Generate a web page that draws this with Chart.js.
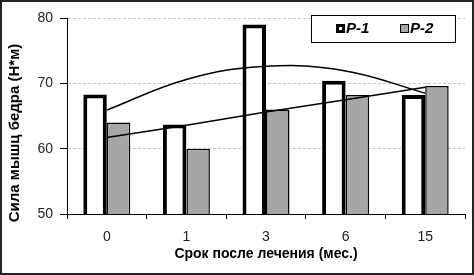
<!DOCTYPE html>
<html>
<head>
<meta charset="utf-8">
<script src="https://cdn.jsdelivr.net/npm/chart.js@4/dist/chart.umd.min.js"></script>
<style>
  html, body { margin: 0; padding: 0; background: #fff; }
  #wrap { width: 474px; height: 275px; box-sizing: border-box; border: 2px solid #222; position: relative; }
  canvas { display: block; }
</style>
</head>
<body>
<div id="wrap"><canvas id="chart" width="470" height="271"></canvas></div>
<script>
// data
const periods = ["0", "1", "3", "6", "15"];
const p1 = [68.3, 63.7, 79.0, 70.4, 68.2];
const p2 = [64.0, 60.0, 66.0, 68.2, 69.6];
// trend lines (polynomial for P-1, linear for P-2), read at category centres
const trendP1 = [65.9, 70.6, 72.6, 71.9, 68.5];
const trendP2 = [61.7, 63.6, 65.6, 67.5, 69.4];
const yTicks = [50, 60, 70, 80];

const FONT = "'Liberation Sans', Arial, sans-serif";
const yTitle = "Сила мышц бедра (Н*м)";

// legend box in the top right corner + y axis title (sits lower than plot centre)
const extras = {
    id: "extras",
    afterDraw(chart) {
        const ctx = chart.ctx;
        ctx.save();
        ctx.fillStyle = "#fff";
        ctx.fillRect(309, 13, 144, 27);
        ctx.strokeStyle = "#000";
        ctx.lineWidth = 1;
        ctx.strokeRect(309.5, 13.5, 144, 27);

        // P-1 marker
        ctx.fillStyle = "#000";
        ctx.fillRect(334, 22, 9, 9);
        ctx.fillStyle = "#fff";
        ctx.fillRect(337, 25, 3, 3);
        // P-2 marker
        ctx.fillStyle = "#000";
        ctx.fillRect(398, 22, 9, 9);
        ctx.fillStyle = "#a6a6a6";
        ctx.fillRect(399, 23, 7, 7);

        ctx.fillStyle = "#000";
        ctx.font = "italic bold 15px " + FONT;
        ctx.textBaseline = "middle";
        ctx.fillText("P-1", 344, 27);
        ctx.fillText("P-2", 408, 27);

        ctx.translate(13, 131);
        ctx.rotate(-Math.PI / 2);
        ctx.textAlign = "center";
        ctx.font = "bold 15px " + FONT;
        ctx.fillText(yTitle, 0, 0);
        ctx.restore();
    }
};

new Chart(document.getElementById("chart"), {
    type: "bar",
    data: {
        labels: periods,
        datasets: [
            {
                type: "line", label: "trend P-1", data: trendP1,
                borderColor: "#000", borderWidth: 1.5, pointRadius: 0,
                tension: 0.4, fill: false, order: 0
            },
            {
                type: "line", label: "trend P-2", data: trendP2,
                borderColor: "#000", borderWidth: 1.5, pointRadius: 0,
                tension: 0, fill: false, order: 0
            },
            {
                label: "P-1", data: p1,
                backgroundColor: "#fff", borderColor: "#000", borderWidth: 4,
                borderSkipped: false, categoryPercentage: 0.59, barPercentage: 1, order: 1
            },
            {
                label: "P-2", data: p2,
                backgroundColor: "#a6a6a6", borderColor: "#000", borderWidth: 1.5,
                borderSkipped: false, categoryPercentage: 0.59, barPercentage: 1, order: 1
            }
        ]
    },
    options: {
        responsive: false,
        animation: false,
        layout: { padding: { top: 16, right: 7, left: 0, bottom: 10 } },
        plugins: { legend: { display: false }, tooltip: { enabled: false } },
        scales: {
            x: {
                grid: { offset: true, drawOnChartArea: false, tickLength: 5, color: "#000", lineWidth: 1 },
                border: { color: "#000", width: 1 },
                ticks: { color: "#222", font: { family: FONT, size: 14 }, padding: 10 },
                title: { display: true, text: "Срок после лечения (мес.)", color: "#000",
                         font: { family: FONT, size: 14, weight: "bold" }, padding: { top: 2, bottom: 0 } },
                afterFit(scale) { scale.height = 49; }
            },
            y: {
                min: 50, max: 80,
                afterBuildTicks(scale) { scale.ticks = yTicks.map(v => ({ value: v })); },
                grid: { color: "#c8c8c8", lineWidth: 1, tickLength: 7, tickColor: "#000", tickBorderDash: [] },
                border: { color: "#000", width: 1, dash: [3, 2] },
                ticks: { color: "#222", font: { family: FONT, size: 14 }, padding: 7 },
                afterFit(scale) { scale.width = 65; }
            }
        }
    },
    plugins: [extras]
});
</script>
</body>
</html>
